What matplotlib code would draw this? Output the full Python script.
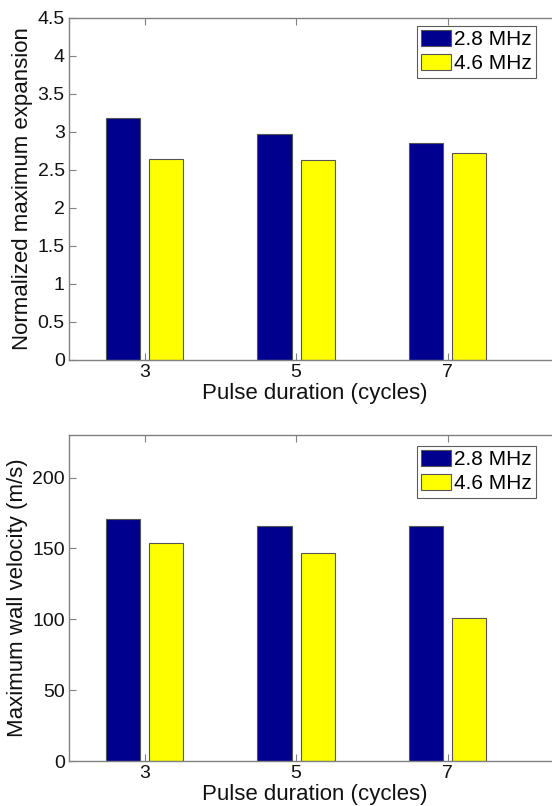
import numpy as np
import matplotlib
matplotlib.use('Agg')
import matplotlib.pyplot as plt

plt.rcParams['font.family'] = ['Liberation Sans', 'DejaVu Sans']

# donnees
cycles = [3, 5, 7]
labels = ['2.8 MHz', '4.6 MHz']
expansion_28 = [3.19, 2.98, 2.85]
expansion_46 = [2.64, 2.63, 2.73]
vitesse_28 = [171, 166, 166]
vitesse_46 = [154, 147, 101]

bleu = '#00008f'
jaune = '#ffff00'
gris = '#808080'


def trace(ax, v1, v2, ylabel, ylim, yticks, leg_top):
    x = np.array(cycles, dtype=float)
    ax.bar(x - 0.285, v1, 0.45, color=bleu, edgecolor='#555555', linewidth=0.8, label=labels[0])
    ax.bar(x + 0.285, v2, 0.45, color=jaune, edgecolor='#555555', linewidth=0.8, label=labels[1])
    ax.set_xlim(2, 2 + 492 / 75.7)
    ax.set_ylim(*ylim)
    ax.set_xticks(cycles)
    ax.set_yticks(yticks)
    ax.set_yticklabels(['{:g}'.format(t) for t in yticks])
    ax.tick_params(direction='in', top=True, right=True, length=5, width=0.8,
                   color=gris, labelsize=14, labelcolor='#111111', pad=3)
    for s in ax.spines.values():
        s.set_color(gris)
        s.set_linewidth(1.0)
    ax.set_xlabel('Pulse duration (cycles)', fontsize=16, labelpad=1, color='#111111')
    ax.set_ylabel(ylabel, fontsize=16, labelpad=3, color='#111111')
    leg = ax.legend(loc='upper right', bbox_to_anchor=(536 / 552, 1 - leg_top / 806),
                    bbox_transform=ax.figure.transFigure, fontsize=15, frameon=True,
                    fancybox=False, borderpad=0.2, handlelength=1.45, handleheight=0.75,
                    handletextpad=0.15, labelspacing=0.25, borderaxespad=0)
    leg.get_frame().set_edgecolor('#333333')
    leg.get_frame().set_linewidth(0.8)


fig = plt.figure(figsize=(5.52, 8.06), dpi=100)
ax1 = fig.add_axes([69 / 552, 1 - 360 / 806, 492 / 552, 342 / 806])
ax2 = fig.add_axes([69 / 552, 1 - 761 / 806, 492 / 552, 326 / 806])

trace(ax1, expansion_28, expansion_46, 'Normalized maximum expansion',
      (0, 4.5), np.arange(0, 4.51, 0.5), 26)
trace(ax2, vitesse_28, vitesse_46, 'Maximum wall velocity (m/s)',
      (0, 230), [0, 50, 100, 150, 200], 446)

fig.savefig('out.png', dpi=100)
